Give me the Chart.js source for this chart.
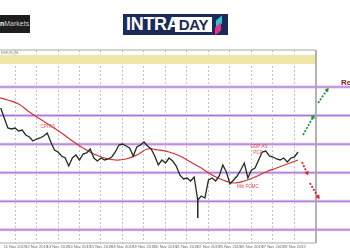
<!DOCTYPE html>
<html>
<head>
<meta charset="utf-8">
<script src="https://cdn.jsdelivr.net/npm/chart.js@4.4.0/dist/chart.umd.min.js"></script>
<style>
  body { margin: 0; background: #fff; }
  #wrap { position: relative; width: 350px; height: 250px; overflow: hidden; font-family: "Liberation Sans", Arial, sans-serif; }
  #chart { position: absolute; left: 0; top: 0; }
  .broker { position: absolute; left: 0; top: 15px; width: 30px; height: 18px; background: #1e1e1e; color: #cfcfcf;
            font-size: 7px; line-height: 18px; white-space: nowrap; overflow: hidden; text-align: right; padding-right: 3px; box-sizing: border-box; }
  .broker b { color: #fff; }
  .intraday { position: absolute; left: 123px; top: 14px; width: 105px; height: 21px; background: #1b2a58; }
  .intra { position: absolute; left: 3px; top: 0; font: bold 18px/21px "Liberation Sans", Arial, sans-serif; color: #fff; letter-spacing: -0.3px; }
  .day { position: absolute; left: 52px; top: 3px; width: 37px; height: 15px; background: #fff; color: #1b2a58;
         font: bold 15px/15px "Liberation Sans", Arial, sans-serif; text-align: center; letter-spacing: -0.3px; }
  .bar1, .bar2 { position: absolute; width: 6px; height: 8px; transform: skewY(-40deg); }
  .bar1 { left: 93px; top: 4px; background: #2ec4d6; }
  .bar2 { left: 92px; top: 11px; background: #e2338f; }
</style>
</head>
<body>
<div id="wrap">
  <canvas id="chart" width="350" height="250"></canvas>
  <div class="broker"><b>n</b>Markets</div>
  <div class="intraday"><div class="intra">INTRA</div><div class="day">DAY</div><div class="bar1"></div><div class="bar2"></div></div>
</div>
<script>
// price series, one value per 4h bar, starting at bar -4
const priceStart = -4;
const priceValues = [
  1.12853, 1.12783, 1.12713, 1.12706, 1.12713, 1.12692, 1.12699, 1.12664, 1.12650, 1.12622,
  1.12636, 1.12643, 1.12657, 1.12678, 1.12615, 1.12559, 1.12545, 1.12517, 1.12503, 1.12447,
  1.12503, 1.12524, 1.12489, 1.12531, 1.12538, 1.12566, 1.12503, 1.12482, 1.12503, 1.12489,
  1.12496, 1.12510, 1.12545, 1.12594, 1.12601, 1.12587, 1.12573, 1.12517, 1.12580, 1.12594,
  1.12615, 1.12587, 1.12566, 1.12517, 1.12454, 1.12489, 1.12468, 1.12503, 1.12482, 1.12447,
  1.12384, 1.12356, 1.12363, 1.12342, 1.12370, 1.12209, 1.12237, 1.12223, 1.12349, 1.12363,
  1.12342, 1.12377, 1.12454, 1.12405, 1.12321, 1.12349, 1.12377, 1.12419, 1.12468, 1.12363,
  1.12419, 1.12433, 1.12489, 1.12545, 1.12552, 1.12517, 1.12510, 1.12496, 1.12489, 1.12503,
  1.12475, 1.12503, 1.12510, 1.12545
];

// long lower wick of the sell-off bar
const wickBar = 51;
const wickHigh = 1.12209;
const wickLow = 1.12083;

// moving average, one value every 3 bars, starting at bar -5
const maStart = -5;
const maStep = 3;
const maValues = [
  1.12930, 1.12909, 1.12881, 1.12825, 1.12776, 1.12727, 1.12678, 1.12622, 1.12573, 1.12531,
  1.12503, 1.12489, 1.12496, 1.12524, 1.12566, 1.12559, 1.12545, 1.12517, 1.12475, 1.12433,
  1.12384, 1.12349, 1.12328, 1.12342, 1.12370, 1.12405, 1.12433, 1.12461, 1.12489
];

// horizontal levels and the yellow zone
const levels = [1.1300, 1.1280, 1.1260, 1.1240, 1.1220, 1.1200];
const zoneHigh = 1.13224;
const zoneLow = 1.13161;

// scenario arrows: [bar, price] from -> to
const upArrows = [
  [[80.4, 1.12664], [83.2, 1.12790]],
  [[84.6, 1.12888], [87.1, 1.12979]]
];
const downArrows = [
  [[80.1, 1.12475], [81.5, 1.12398]],
  [[82.3, 1.12328], [84.6, 1.12230]]
];

// event notes
const noteText = ['CPI AS', 'GDP AS', 'PCE', 'Min FOMC'];
const noteBar = [9.2, 68.1, 67.8, 65.0];
const notePrice = [1.12720, 1.12580, 1.12538, 1.12300];

// x axis: one gridline per day (6 bars)
const gridBars = [0, 6, 12, 18, 24, 30, 36, 42, 48, 54, 60, 66, 72, 78];
const dateLabels = ['11 Nov 2019', '12 Nov 2019', '13 Nov 2019', '14 Nov 2019', '15 Nov 2019', '18 Nov 2019', '19 Nov 2019',
                    '20 Nov 2019', '21 Nov 2019', '22 Nov 2019', '25 Nov 2019', '26 Nov 2019', '27 Nov 2019', '28 Nov 2019'];

const X_MIN = -4.19, X_MAX = 93.5, LAST_BAR = 84;
const Y_MIN = 1.11908, Y_MAX = 1.13259;

function arrowDataset(pts, color) {
  return {
    data: pts.map(p => ({ x: p[0], y: p[1] })),
    borderColor: color,
    backgroundColor: color,
    borderWidth: 1.8,
    borderDash: [2, 1.5],
    pointStyle: 'triangle',
    pointRadius: ctx => ctx.dataIndex === pts.length - 1 ? 2.2 : 0,
    pointBorderWidth: 0.5,
    pointRotation: ctx => {
      const sx = ctx.chart.scales.x, sy = ctx.chart.scales.y;
      const dx = sx.getPixelForValue(pts[1][0]) - sx.getPixelForValue(pts[0][0]);
      const dy = sy.getPixelForValue(pts[1][1]) - sy.getPixelForValue(pts[0][1]);
      return Math.atan2(dx, -dy) * 180 / Math.PI;
    },
    clip: false,
    order: 1
  };
}

const datasets = [];

datasets.push({
  data: priceValues.map((v, i) => ({ x: priceStart + i, y: v })),
  borderColor: '#1f2e1f', borderWidth: 1.3, pointRadius: 0, order: 2
});
datasets.push({
  data: [{ x: wickBar, y: wickHigh }, { x: wickBar, y: wickLow }],
  borderColor: '#1f2e1f', borderWidth: 1, pointRadius: 0, order: 2
});
datasets.push({
  data: maValues.map((v, i) => ({ x: maStart + i * maStep, y: v })),
  borderColor: '#cc3333', borderWidth: 1.2, pointRadius: 0, tension: 0.4, order: 3
});
upArrows.forEach(a => datasets.push(arrowDataset(a, '#22962e')));
downArrows.forEach(a => datasets.push(arrowDataset(a, '#e0262c')));

levels.forEach(l => {
  datasets.push({ data: [{ x: X_MIN, y: l }, { x: X_MAX, y: l }], borderColor: '#ac72d4', borderWidth: 1, pointRadius: 0, order: 7 });
  datasets.push({ data: [{ x: X_MIN, y: l }, { x: X_MAX, y: l }], borderColor: '#dcc3ef', borderWidth: 3, pointRadius: 0, order: 8 });
});

// chart frame (top, right and bottom border)
datasets.push({
  data: [{ x: X_MIN, y: Y_MAX }, { x: LAST_BAR, y: Y_MAX }, { x: LAST_BAR, y: Y_MIN }, { x: X_MIN, y: Y_MIN }],
  borderColor: '#a8a8a8', borderWidth: 1, pointRadius: 0, clip: false, order: 6
});

datasets.push({
  data: [{ x: X_MIN, y: zoneHigh }, { x: LAST_BAR, y: zoneHigh }],
  borderWidth: 0, pointRadius: 0, backgroundColor: '#efe6a8', fill: { value: zoneLow }, order: 10
});

const notesPlugin = {
  id: 'notes',
  afterDatasetsDraw(chart) {
    const { ctx, scales: { x, y } } = chart;
    ctx.save();
    ctx.textAlign = 'center';
    ctx.textBaseline = 'middle';
    ctx.fillStyle = '#e04848';
    ctx.font = '4.5px "Liberation Sans", Arial, sans-serif';
    noteText.forEach((t, i) => ctx.fillText(t, x.getPixelForValue(noteBar[i]), y.getPixelForValue(notePrice[i])));

    ctx.textAlign = 'left';
    ctx.fillStyle = '#8c1414';
    ctx.font = 'bold 8px "Liberation Sans", Arial, sans-serif';
    ctx.fillText('Resistance', x.getPixelForValue(91), y.getPixelForValue(1.13028));

    ctx.fillStyle = '#777';
    ctx.font = '3px "Liberation Sans", Arial, sans-serif';
    ctx.fillText('EURUSD,H4', 1, chart.chartArea.top + 3);
    ctx.restore();
  }
};

new Chart(document.getElementById('chart'), {
  type: 'line',
  data: { datasets },
  plugins: [notesPlugin],
  options: {
    responsive: false,
    animation: false,
    devicePixelRatio: 1,
    layout: { autoPadding: false, padding: { top: 50, left: 0, right: 0, bottom: 0 } },
    plugins: { legend: { display: false }, tooltip: { enabled: false } },
    elements: { line: { fill: false } },
    scales: {
      x: {
        type: 'linear', min: X_MIN, max: X_MAX,
        afterBuildTicks: s => { s.ticks = gridBars.map(v => ({ value: v })); },
        afterFit: s => { s.height = 7; s.paddingLeft = 0; s.paddingRight = 0; },
        grid: { color: '#c4c4c4', drawTicks: false },
        border: { display: false, dash: [2, 2] },
        ticks: {
          padding: 1.5, maxRotation: 0, autoSkip: false,
          color: '#666', font: { size: 4, family: 'Liberation Sans' },
          callback: v => dateLabels[gridBars.indexOf(v)]
        }
      },
      y: { type: 'linear', min: Y_MIN, max: Y_MAX, display: false }
    }
  }
});
</script>
</body>
</html>
